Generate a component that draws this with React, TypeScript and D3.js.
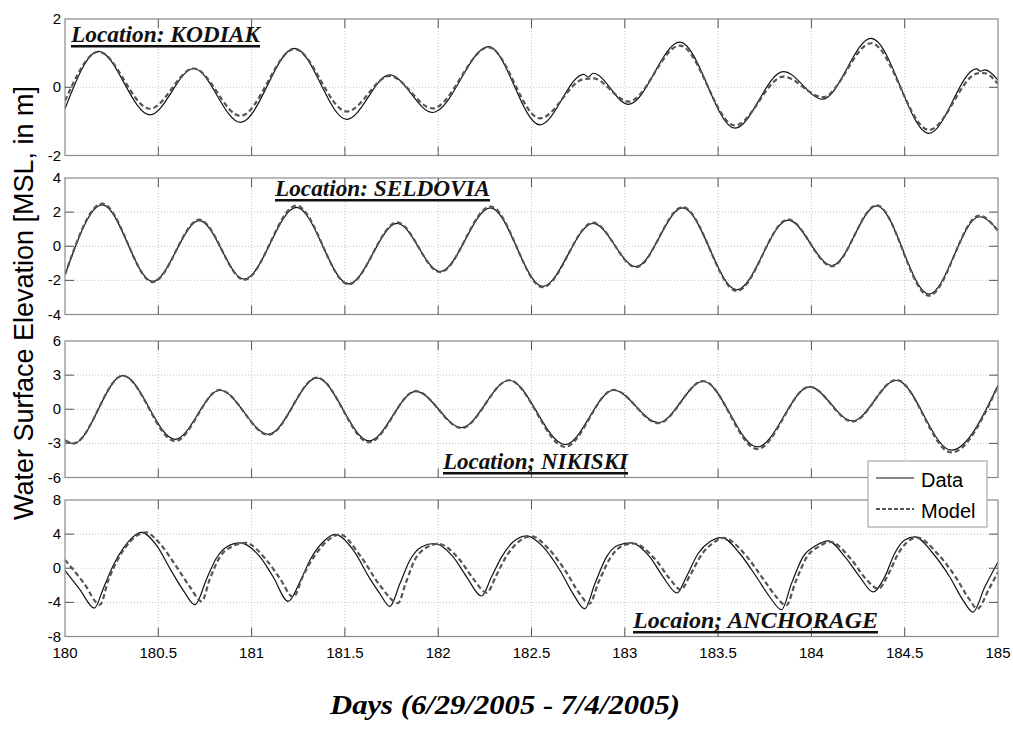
import React, { useEffect, useRef } from "react";
import * as d3 from "d3";

// days (peaks / troughs, plus the end points)
const kodiakDays = [180, 180.18, 180.455, 180.69, 180.94, 181.23, 181.51, 181.74, 181.97, 182.27, 182.545, 182.78, 182.805, 182.83, 183.02, 183.295, 183.59, 183.85, 184.06, 184.32, 184.63, 184.885, 184.905, 184.93, 185];
const kodiakData = [-0.63, 1.05, -0.81, 0.55, -1.03, 1.14, -0.94, 0.36, -0.74, 1.19, -1.1, 0.38, 0.3, 0.41, -0.5, 1.32, -1.2, 0.46, -0.35, 1.43, -1.35, 0.54, 0.47, 0.51, 0.21];
const kodiakModel = [-0.4, 1.04, -0.63, 0.55, -0.84, 1.12, -0.71, 0.33, -0.62, 1.17, -0.91, 0.24, 0.25, 0.26, -0.42, 1.22, -1.12, 0.31, -0.29, 1.29, -1.25, 0.4, 0.42, 0.41, 0.1];

const seldoviaDays = [180, 180.2, 180.47, 180.72, 180.96, 181.24, 181.52, 181.78, 182.01, 182.28, 182.56, 182.83, 183.06, 183.31, 183.6, 183.875, 184.11, 184.35, 184.63, 184.9, 185];
const seldoviaData = [-1.67, 2.42, -2.06, 1.5, -1.93, 2.28, -2.2, 1.34, -1.48, 2.25, -2.35, 1.34, -1.19, 2.25, -2.55, 1.53, -1.13, 2.37, -2.8, 1.73, 0.95];
const seldoviaModel = [-1.67, 2.5, -2.1, 1.56, -1.97, 2.38, -2.24, 1.4, -1.52, 2.33, -2.4, 1.38, -1.23, 2.3, -2.62, 1.57, -1.17, 2.4, -2.9, 1.8, 0.9];

const nikiskiDays = [180, 180.045, 180.31, 180.59, 180.83, 181.09, 181.35, 181.63, 181.88, 182.125, 182.38, 182.68, 182.94, 183.18, 183.42, 183.71, 183.99, 184.22, 184.455, 184.75, 185];
const nikiskiData = [-2.67, -3.02, 2.95, -2.64, 1.67, -2.2, 2.75, -2.78, 1.58, -1.61, 2.55, -3.1, 1.67, -1.17, 2.46, -3.31, 1.96, -1.03, 2.55, -3.6, 2.11];
const nikiskiModel = [-2.75, -3.0, 2.95, -2.8, 1.7, -2.25, 2.78, -2.9, 1.6, -1.65, 2.55, -3.3, 1.7, -1.22, 2.48, -3.5, 1.98, -1.08, 2.58, -3.8, 2.05];

// Anchorage is lopsided (steep flood, long ebb), so more points are read along each limb
const anchorageDataDays = [180, 180.08, 180.157, 180.205, 180.259, 180.312, 180.366, 180.41, 180.49, 180.5625, 180.634, 180.696, 180.76, 180.81, 180.866, 180.9375, 181.045, 181.116, 181.196, 181.259, 181.3125, 181.384, 181.446, 181.545, 181.634, 181.6875, 181.741, 181.795, 181.848, 181.91, 181.98, 182.08, 182.152, 182.232, 182.286, 182.34, 182.402, 182.475, 182.5625, 182.652, 182.723, 182.785, 182.84, 182.902, 182.964, 183.035, 183.134, 183.205, 183.28, 183.33, 183.393, 183.455, 183.52, 183.616, 183.705, 183.777, 183.84, 183.893, 183.955, 184.027, 184.09, 184.18, 184.259, 184.33, 184.393, 184.446, 184.5, 184.555, 184.652, 184.741, 184.813, 184.866, 184.929, 185];
const anchorageData = [-0.26, -2.5, -4.67, -2.39, 0.35, 2.32, 3.69, 4.2, 2.7, -0.04, -2.59, -4.27, -1.2, 1.14, 2.5, 2.98, 1.33, -1.02, -3.88, -1.6, 0.94, 3.1, 3.96, 2.12, -1.22, -2.98, -4.47, -1.8, 0.94, 2.5, 2.9, 1.33, -1.0, -3.25, -1.0, 1.33, 3.1, 3.8, 2.5, -0.24, -3.0, -4.75, -1.8, 1.33, 2.7, 2.98, 1.33, -1.0, -2.9, -1.0, 1.73, 3.1, 3.6, 1.73, -1.0, -3.37, -4.86, -1.8, 1.33, 2.7, 3.22, 1.33, -1.0, -2.78, -1.0, 1.73, 3.3, 3.68, 1.73, -1.0, -3.76, -5.14, -2.2, 0.74];
const anchorageModelDays = [180, 180.1, 180.1875, 180.232, 180.286, 180.348, 180.434, 180.5, 180.598, 180.67, 180.732, 180.777, 180.83, 180.9, 180.965, 181.08, 181.152, 181.223, 181.277, 181.34, 181.41, 181.473, 181.58, 181.6875, 181.785, 181.825, 181.875, 181.935, 182.0, 182.115, 182.19, 182.26, 182.31, 182.365, 182.425, 182.5, 182.59, 182.685, 182.755, 182.81, 182.86, 182.925, 182.985, 183.045, 183.165, 183.24, 183.3, 183.35, 183.415, 183.475, 183.53, 183.645, 183.74, 183.81, 183.865, 183.915, 183.975, 184.045, 184.1, 184.215, 184.29, 184.36, 184.41, 184.465, 184.515, 184.565, 184.68, 184.775, 184.845, 184.89, 184.95, 185];
const anchorageModel = [0.98, -1.7, -4.27, -1.41, 1.14, 3.1, 4.2, 3.1, 0.16, -2.2, -3.88, -1.2, 1.33, 2.6, 2.98, 0.94, -1.2, -3.37, -0.82, 1.53, 3.3, 3.96, 1.53, -2.0, -4.08, -1.8, 1.0, 2.4, 2.85, 1.0, -1.3, -2.86, -0.9, 1.4, 3.0, 3.75, 2.3, -0.4, -2.9, -4.16, -1.6, 1.3, 2.6, 2.9, 1.0, -1.2, -2.5, -0.8, 1.7, 3.0, 3.55, 1.6, -1.2, -3.3, -4.35, -1.6, 1.3, 2.6, 3.1, 1.0, -1.2, -2.4, -0.8, 1.7, 3.1, 3.6, 1.6, -1.1, -3.6, -4.75, -2.5, -0.43];

const xTickValues = [180, 180.5, 181, 181.5, 182, 182.5, 183, 183.5, 184, 184.5, 185];
const locationNames = ["Location: KODIAK", "Location: SELDOVIA", "Location; NIKISKI", "Locaion; ANCHORAGE"];
const yTickSets = [[-2, 0, 2], [-4, -2, 0, 2, 4], [-6, -3, 0, 3, 6], [-8, -4, 0, 4, 8]];
const legendLabels = ["Data", "Model"];

const panels = [
  { dDays: kodiakDays, d: kodiakData, mDays: kodiakDays, m: kodiakModel, lab: { x: 71, y: 42, w: 189 } },
  { dDays: seldoviaDays, d: seldoviaData, mDays: seldoviaDays, m: seldoviaModel, lab: { x: 275, y: 196, w: 215 } },
  { dDays: nikiskiDays, d: nikiskiData, mDays: nikiskiDays, m: nikiskiModel, lab: { x: 443, y: 469, w: 185 } },
  { dDays: anchorageDataDays, d: anchorageData, mDays: anchorageModelDays, m: anchorageModel, lab: { x: 633, y: 628, w: 245 } },
];

const App = () => {
  const ref = useRef(null);

  useEffect(() => {
    const width = 1013;
    const height = 733;
    const left = 65;
    const right = 998;
    const tops = [19, 178, 341, 500];
    const ph = 136.5;

    const svg = d3.select(ref.current).attr("width", width).attr("height", height);
    svg.selectAll("*").remove();
    svg.append("rect").attr("width", width).attr("height", height).attr("fill", "white");

    const x = d3.scaleLinear().domain([180, 185]).range([left, right]);

    panels.forEach((p, i) => {
      const top = tops[i];
      const bottom = top + ph;
      const ticks = yTickSets[i];
      const y = d3.scaleLinear().domain([ticks[0], ticks[ticks.length - 1]]).range([bottom, top]);
      const g = svg.append("g");

      g.append("clipPath").attr("id", "clip" + i)
        .append("rect").attr("x", left).attr("y", top).attr("width", right - left).attr("height", ph);

      // dotted grid
      g.selectAll(".vg").data(xTickValues.slice(1, -1)).enter().append("line")
        .attr("x1", d => x(d)).attr("x2", d => x(d)).attr("y1", top).attr("y2", bottom)
        .attr("stroke", "#b5b5b5").attr("stroke-width", 0.8).attr("stroke-dasharray", "1,2");
      g.selectAll(".hg").data(ticks.slice(1, -1)).enter().append("line")
        .attr("x1", left).attr("x2", right).attr("y1", d => y(d)).attr("y2", d => y(d))
        .attr("stroke", "#b5b5b5").attr("stroke-width", 0.8).attr("stroke-dasharray", "1,2");

      const line = d3.line()
        .x(d => x(d[0]))
        .y(d => y(d[1]))
        .curve(d3.curveMonotoneX);

      const lines = g.append("g").attr("clip-path", `url(#clip${i})`);
      lines.append("path").datum(d3.zip(p.dDays, p.d)).attr("d", line)
        .attr("fill", "none").attr("stroke", "#111").attr("stroke-width", 1.2);
      lines.append("path").datum(d3.zip(p.mDays, p.m)).attr("d", line)
        .attr("fill", "none").attr("stroke", "#555").attr("stroke-width", 2.2)
        .attr("stroke-dasharray", "5,3");

      // frame + inward ticks
      g.append("rect").attr("x", left).attr("y", top).attr("width", right - left).attr("height", ph)
        .attr("fill", "none").attr("stroke", "#8a8a8a").attr("stroke-width", 1.2);
      g.selectAll(".xt").data(xTickValues.slice(1, -1)).enter().append("path")
        .attr("d", d => `M${x(d)},${top}v9M${x(d)},${bottom}v-9`)
        .attr("stroke", "#555").attr("stroke-width", 1);
      g.selectAll(".yt").data(ticks.slice(1, -1)).enter().append("path")
        .attr("d", d => `M${left},${y(d)}h9M${right},${y(d)}h-9`)
        .attr("stroke", "#555").attr("stroke-width", 1);

      g.selectAll(".yl").data(ticks).enter().append("text")
        .attr("x", left - 4).attr("y", d => y(d) + 5)
        .attr("text-anchor", "end")
        .attr("font-family", "Liberation Sans, Arial, sans-serif")
        .attr("font-size", 15)
        .text(d => d);

      // location label
      g.append("text")
        .attr("x", p.lab.x).attr("y", p.lab.y)
        .attr("font-family", "Liberation Serif, Times New Roman, serif")
        .attr("font-weight", "bold").attr("font-style", "italic")
        .attr("font-size", 24)
        .attr("textLength", p.lab.w).attr("lengthAdjust", "spacingAndGlyphs")
        .attr("fill", "#111")
        .text(locationNames[i]);
      g.append("rect")
        .attr("x", p.lab.x).attr("y", p.lab.y + 3).attr("width", p.lab.w).attr("height", 2.5)
        .attr("fill", "#111");
    });

    // x tick labels under the last panel
    svg.selectAll(".xl").data(xTickValues).enter().append("text")
      .attr("x", d => x(d)).attr("y", tops[3] + ph + 21)
      .attr("text-anchor", "middle")
      .attr("font-family", "Liberation Sans, Arial, sans-serif")
      .attr("font-size", 15)
      .text(d => d);

    // legend
    const lg = svg.append("g").attr("transform", "translate(868,461)");
    lg.append("rect").attr("width", 119).attr("height", 66)
      .attr("fill", "white").attr("stroke", "#999").attr("stroke-width", 1);
    legendLabels.forEach((name, k) => {
      const ly = 17 + k * 31;
      lg.append("line").attr("x1", 8).attr("x2", 46).attr("y1", ly).attr("y2", ly)
        .attr("stroke", k === 0 ? "#111" : "#555")
        .attr("stroke-width", k === 0 ? 1.2 : 2)
        .attr("stroke-dasharray", k === 0 ? null : "4,2");
      lg.append("text").attr("x", 53).attr("y", ly + 9)
        .attr("font-family", "Liberation Sans, Arial, sans-serif")
        .attr("font-size", 20)
        .text(name);
    });

    // axis titles
    svg.append("text")
      .attr("transform", "translate(33,303) rotate(-90)")
      .attr("text-anchor", "middle")
      .attr("font-family", "Liberation Sans, Arial, sans-serif")
      .attr("font-size", 27)
      .text("Water Surface Elevation [MSL, in m]");

    svg.append("text")
      .attr("x", 505).attr("y", 714)
      .attr("text-anchor", "middle")
      .attr("font-family", "Liberation Serif, Times New Roman, serif")
      .attr("font-weight", "bold").attr("font-style", "italic")
      .attr("font-size", 27)
      .attr("textLength", 350).attr("lengthAdjust", "spacingAndGlyphs")
      .text("Days (6/29/2005 - 7/4/2005)");
  }, []);

  return <svg ref={ref} style={{ position: "absolute", left: 0, top: 0 }}></svg>;
};

export default App;
